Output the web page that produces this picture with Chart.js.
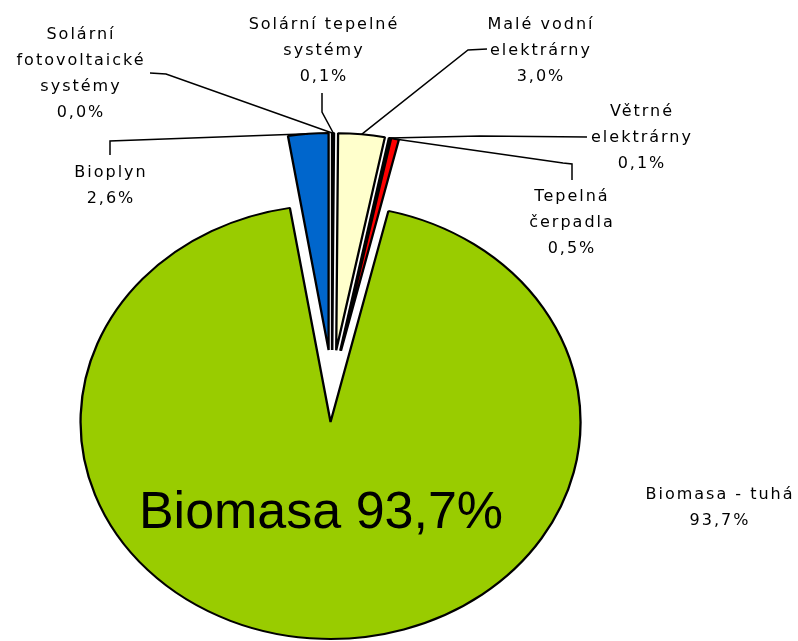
<!DOCTYPE html>
<html lang="cs">
<head>
<meta charset="UTF-8">
<title>Obnovitelné zdroje energie</title>
<script src="https://cdn.jsdelivr.net/npm/chart.js"></script>
<style>
  html, body { margin: 0; padding: 0; background: #fff; }
  #pie { display: block; }
</style>
</head>
<body>
<canvas id="pie" width="798" height="641"></canvas>
<script>
// Data, clockwise starting with the Bioplyn slice
const categories = ['Bioplyn', 'Solární fotovoltaické systémy', 'Solární tepelné systémy',
                    'Malé vodní elektrárny', 'Větrné elektrárny', 'Tepelná čerpadla', 'Biomasa - tuhá'];
const shares = [2.6, 0.02, 0.1, 3.0, 0.1, 0.5, 93.7];
const labelLines = [['Bioplyn'], ['Solární', 'fotovoltaické', 'systémy'], ['Solární tepelné', 'systémy'],
                    ['Malé vodní', 'elektrárny'], ['Větrné', 'elektrárny'], ['Tepelná', 'čerpadla'], ['Biomasa - tuhá']];
const bigLabel = 'Biomasa';
const sliceColors = ['#0066CC', '#FFFFFF', '#FFFFFF', '#FFFFCC', '#FFFFFF', '#FF0000', '#99CC00'];

// Look: the original pie is stretched sideways and every slice is pulled out
const STRETCH_X = 1.152;
const EXPLODE = 36;
const LINE_H = 26;

// where the (hand placed) labels sit, and the label end of each leader line
const labelLayout = [
  { x: 110, y: 173, leader: [[110, 155], [110, 141]] },
  { x: 80,  y: 35,  leader: [[150, 73], [166, 74]] },
  { x: 323, y: 25,  leader: [[322, 93], [322, 112]] },
  { x: 540, y: 25,  leader: [[487, 49], [468, 50]] },
  { x: 641, y: 112, leader: [[587, 137], [480, 136]] },
  { x: 571, y: 197, leader: [[572, 180], [572, 164], [563, 163]] },
  { x: 719, y: 495, leader: null }
];

const fmt = v => v.toFixed(1).replace('.', ',') + '%';

function pieCenter(chart) {
  const a = chart.chartArea;
  return { x: (a.left + a.right) / 2, y: (a.top + a.bottom) / 2 };
}

// pulls every slice out along its bisector and stretches the pie horizontally
const explodePlugin = {
  id: 'explode',
  afterDatasetsUpdate(chart) {
    chart.getDatasetMeta(0).data.forEach(arc => {
      const mid = (arc.startAngle + arc.endAngle) / 2;
      arc.x += EXPLODE * Math.cos(mid);
      arc.y += EXPLODE * Math.sin(mid);
    });
  },
  beforeDatasetsDraw(chart) {
    const c = pieCenter(chart);
    const ctx = chart.ctx;
    ctx.save();
    ctx.translate(c.x, c.y);
    ctx.scale(STRETCH_X, 1);
    ctx.translate(-c.x, -c.y);
  },
  afterDatasetsDraw(chart) {
    chart.ctx.restore();
  }
};

// outside labels with leader lines, plus the big label inside the green slice
const labelPlugin = {
  id: 'labels',
  afterDraw(chart) {
    const ctx = chart.ctx;
    const c = pieCenter(chart);
    const arcs = chart.getDatasetMeta(0).data;
    ctx.save();
    ctx.strokeStyle = '#000';
    ctx.lineWidth = 1.5;
    ctx.fillStyle = '#000';
    ctx.textAlign = 'center';
    ctx.textBaseline = 'middle';
    ctx.font = '16px "DejaVu Sans"';
    ctx.letterSpacing = '2px';

    labelLayout.forEach((lay, i) => {
      if (lay.leader) {
        const arc = arcs[i];
        const mid = (arc.startAngle + arc.endAngle) / 2;
        const px = c.x + (arc.x + arc.outerRadius * Math.cos(mid) - c.x) * STRETCH_X;
        const py = arc.y + arc.outerRadius * Math.sin(mid);
        ctx.beginPath();
        ctx.moveTo(lay.leader[0][0], lay.leader[0][1]);
        lay.leader.slice(1).forEach(p => ctx.lineTo(p[0], p[1]));
        ctx.lineTo(px, py);
        ctx.stroke();
      }
      const lines = labelLines[i].concat([fmt(shares[i])]);
      lines.forEach((t, k) => ctx.fillText(t, lay.x + 1, lay.y + k * LINE_H));
    });

    ctx.letterSpacing = '0px';
    ctx.font = '52px "Liberation Sans", Arial';
    ctx.fillText(bigLabel + ' ' + fmt(shares[6]), 321, 514);
    ctx.restore();
  }
};

new Chart(document.getElementById('pie'), {
  type: 'pie',
  data: {
    labels: categories,
    datasets: [{
      data: shares,
      backgroundColor: sliceColors,
      borderColor: '#000',
      borderWidth: 2
    }]
  },
  options: {
    responsive: false,
    animation: false,
    events: [],
    rotation: -shares[0] * 3.6,
    radius: 217,
    layout: { padding: { left: 0, right: 134, top: 131, bottom: 0 } },
    plugins: {
      legend: { display: false },
      tooltip: { enabled: false }
    }
  },
  plugins: [explodePlugin, labelPlugin]
});
</script>
</body>
</html>
